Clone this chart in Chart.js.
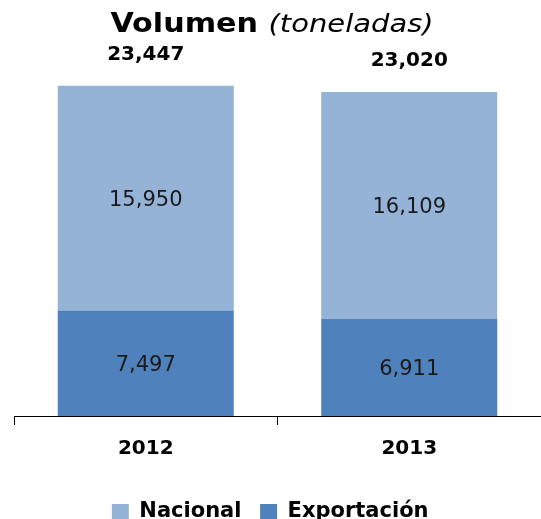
<!DOCTYPE html>
<html>
<head>
<meta charset="utf-8">
<script src="https://cdn.jsdelivr.net/npm/chart.js@4"></script>
<style>
  html, body { margin: 0; padding: 0; background: #fff; }
  #wrap { width: 541px; height: 519px; position: relative; }
</style>
</head>
<body>
<div id="wrap"><canvas id="chart"></canvas></div>
<script>
// ---- data ----
const years = ["2012", "2013"];
const exportacion = [7497, 6911];
const nacional = [15950, 16109];
const totals = [23447, 23020];
const titleMain = "Volumen";
const titleSub = "(toneladas)";

const FONT = "'DejaVu Sans', Verdana, sans-serif";
const fmt = (v) => v.toLocaleString("en-US");

// title drawn in two styles (bold + italic), slightly stretched like the original
const titlePlugin = {
  id: "mixedTitle",
  afterDraw(chart) {
    const { ctx } = chart;
    const sx = 1.16;
    ctx.save();
    ctx.fillStyle = "#000";
    ctx.textBaseline = "alphabetic";
    ctx.font = `bold 26px ${FONT}`;
    const w1 = ctx.measureText(titleMain + " ").width * sx;
    ctx.font = `oblique 25px ${FONT}`;
    const w2 = ctx.measureText(titleSub).width * sx;
    const x0 = 272 - (w1 + w2) / 2;
    ctx.translate(x0, 32);
    ctx.scale(sx, 1);
    ctx.font = `bold 26px ${FONT}`;
    ctx.fillText(titleMain + " ", 0, 0);
    ctx.font = `oblique 25px ${FONT}`;
    ctx.fillText(titleSub, w1 / sx, 0);
    ctx.restore();
  },
};

// segment values inside the bars + totals above
const labelPlugin = {
  id: "barLabels",
  afterDatasetsDraw(chart) {
    const { ctx } = chart;
    ctx.save();
    ctx.textAlign = "center";
    ctx.textBaseline = "middle";
    ctx.fillStyle = "#1a1a1a";
    ctx.font = `21px ${FONT}`;
    chart.data.datasets.forEach((ds, di) => {
      chart.getDatasetMeta(di).data.forEach((el, i) => {
        ctx.fillText(fmt(ds.data[i]), el.x, (el.y + el.base) / 2 + 2);
      });
    });
    const top = chart.getDatasetMeta(chart.data.datasets.length - 1).data;
    ctx.fillStyle = "#000";
    ctx.font = `bold 20px ${FONT}`;
    ctx.textBaseline = "alphabetic";
    top.forEach((el, i) => {
      ctx.fillText(fmt(totals[i]), el.x, el.y - 26);
    });
    ctx.restore();
  },
};

new Chart(document.getElementById("chart"), {
  type: "bar",
  data: {
    labels: years,
    datasets: [
      { label: "Exportación", data: exportacion, backgroundColor: "#4F81BD", categoryPercentage: 1, barPercentage: 0.668 },
      { label: "Nacional", data: nacional, backgroundColor: "#95B3D7", categoryPercentage: 1, barPercentage: 0.668 },
    ],
  },
  options: {
    responsive: true,
    maintainAspectRatio: false,
    animation: false,
    layout: { padding: { top: 64, left: 14, right: 0, bottom: -13 } },
    scales: {
      x: {
        stacked: true,
        border: { color: "#000", width: 1 },
        grid: { display: true, drawOnChartArea: false, drawTicks: true, tickLength: 9, color: "#000" },
        ticks: { color: "#000", padding: 12, font: { family: FONT, size: 20, weight: "bold" } },
        afterFit: (s) => { s.height += 24; },
      },
      y: { stacked: true, display: false, min: 0, max: 25000 },
    },
    plugins: {
      legend: {
        position: "bottom",
        reverse: true,
        labels: {
          color: "#000",
          boxWidth: 17,
          boxHeight: 15,
          padding: 4,
          font: { family: FONT, size: 21, weight: "bold" },
          generateLabels: (chart) => {
            const items = Chart.defaults.plugins.legend.labels.generateLabels(chart);
            items.forEach((it) => { it.text = it.text + "  "; });
            return items;
          },
        },
      },
      tooltip: { enabled: false },
      title: { display: false },
    },
  },
  plugins: [titlePlugin, labelPlugin],
});
</script>
</body>
</html>
